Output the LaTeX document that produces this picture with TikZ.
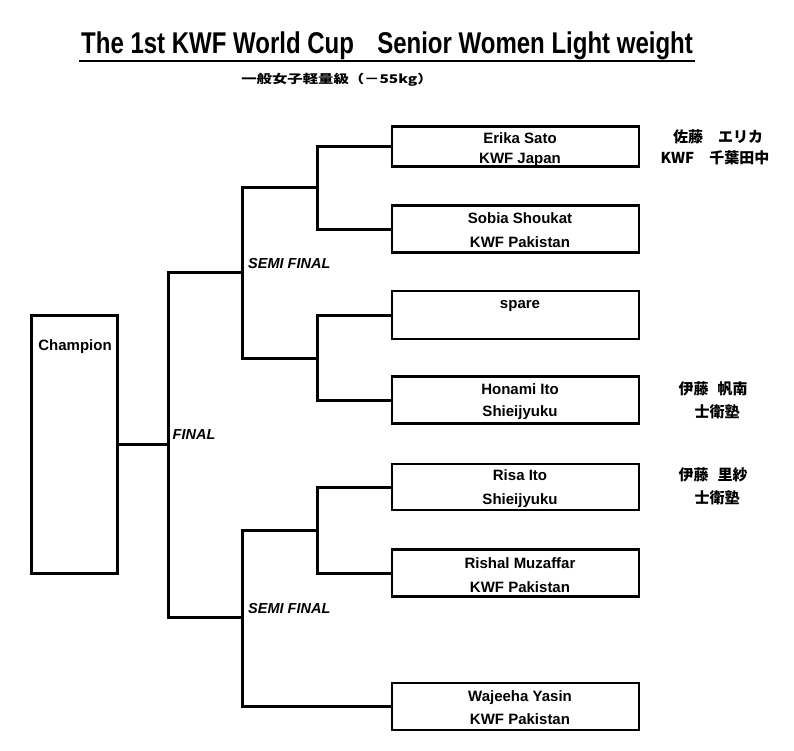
\documentclass[tikz,border=0pt]{standalone}
\usepackage{fontspec}
\setmainfont{Liberation Sans}
\newfontfamily\jp{Noto Sans CJK JP}
\begin{document}
\begin{tikzpicture}[x=1pt,y=-1pt,
  conn/.style={line width=3pt, line join=miter, line cap=rect},
  pbox/.style={draw, line width=2.8pt, minimum width=247pt, inner sep=0pt},
  nametext/.style={font=\bfseries\fontsize{15}{23.5}\selectfont, align=center, inner sep=0pt},
  jptext/.style={font=\jp\bfseries\fontsize{15}{22}\selectfont, align=center, inner sep=0pt},
  roundlabel/.style={font=\bfseries\itshape\fontsize{14.5}{16}\selectfont, anchor=west, inner sep=0pt}]
\useasboundingbox (0,0) rectangle (794,750);
% title
\node[inner sep=0pt, font=\bfseries\fontsize{30}{30}\selectfont] (title) at (387,46)
  {\scalebox{0.8}[1]{The 1st KWF World Cup\hspace{29pt}Senior Women Light weight}};
\coordinate (ulA) at (79,61);
\coordinate (ulB) at (695,61);
\draw[line width=2.2pt] (ulA) -- (ulB);
\node[inner sep=0pt, font=\jp\bfseries\fontsize{12}{12}\selectfont] (sub) at (337,80)
  {\scalebox{1.28}[1]{一般女子軽量級（－55kg）}};
% player boxes
\node[pbox, minimum height=40pt] (b1) at (515.5,146.7) {};
\node[pbox, minimum height=47pt] (b2) at (515.5,229.3) {};
\node[pbox, minimum height=48pt] (b3) at (515.5,315) {};
\node[pbox, minimum height=47pt] (b4) at (515.5,400.3) {};
\node[pbox, minimum height=46pt] (b5) at (515.5,487) {};
\node[pbox, minimum height=47pt] (b6) at (515.5,573.3) {};
\node[pbox, minimum height=47pt] (b7) at (515.5,706.5) {};
% player texts
\node[nametext, font=\bfseries\fontsize{15}{20.5}\selectfont] (t1) at (520,149.5) {Erika Sato\\KWF Japan};
\node[nametext] (t2) at (520,230) {Sobia Shoukat\\KWF Pakistan};
\node[nametext] (t3) at (520,306) {spare};
\node[nametext, font=\bfseries\fontsize{15}{22}\selectfont] (t4) at (520,402) {Honami Ito\\Shieijyuku};
\node[nametext] (t5) at (520,488.5) {Risa Ito\\Shieijyuku};
\node[nametext] (t6) at (520,575) {Rishal Muzaffar\\KWF Pakistan};
\node[nametext] (t7) at (520,707.5) {Wajeeha Yasin\\KWF Pakistan};
% japanese names
\node[jptext] (j1a) at (718,137) {佐藤　エリカ};
\node[jptext] (j1b) at (715,158) {KWF　千葉田中};
\node[jptext] (j4a) at (713,389) {伊藤\hspace{0.6em}帆南};
\node[jptext] (j4b) at (717,412) {士衛塾};
\node[jptext] (j5a) at (713,475) {伊藤\hspace{0.6em}里紗};
\node[jptext] (j5b) at (717,498) {士衛塾};
% champion
\node[draw, line width=3pt, minimum width=85.6pt, minimum height=258pt, inner sep=0pt] (champ) at (74.5,444.5) {};
\node[inner sep=0pt, font=\bfseries\fontsize{15}{15}\selectfont] (champtext) at (75,347) {Champion};
% junction points
\coordinate (q1) at (317.5,187);
\coordinate (q2) at (317.5,358);
\coordinate (q3) at (317.5,530);
\coordinate (sf1) at (242.5,272.5);
\coordinate (sf2) at (242.5,617.5);
\coordinate (fin) at (168,444.5);
% connectors
\draw[conn] (b1.west) -| (q1) |- (b2.west);
\draw[conn] (b3.west) -| (q2) |- (b4.west);
\draw[conn] (b5.west) -| (q3) |- (b6.west);
\draw[conn] (q1) -| (sf1) |- (q2);
\draw[conn] (q3) -| (sf2) |- (b7.west);
\draw[conn] (sf1) -| (fin) |- (sf2);
\draw[conn] (champ.east) -- (fin);
% round labels
\node[roundlabel] (semi1) at (248,264) {SEMI FINAL};
\node[roundlabel] (final) at (172.5,435) {FINAL};
\node[roundlabel] (semi2) at (248,608) {SEMI FINAL};
\end{tikzpicture}
\end{document}
